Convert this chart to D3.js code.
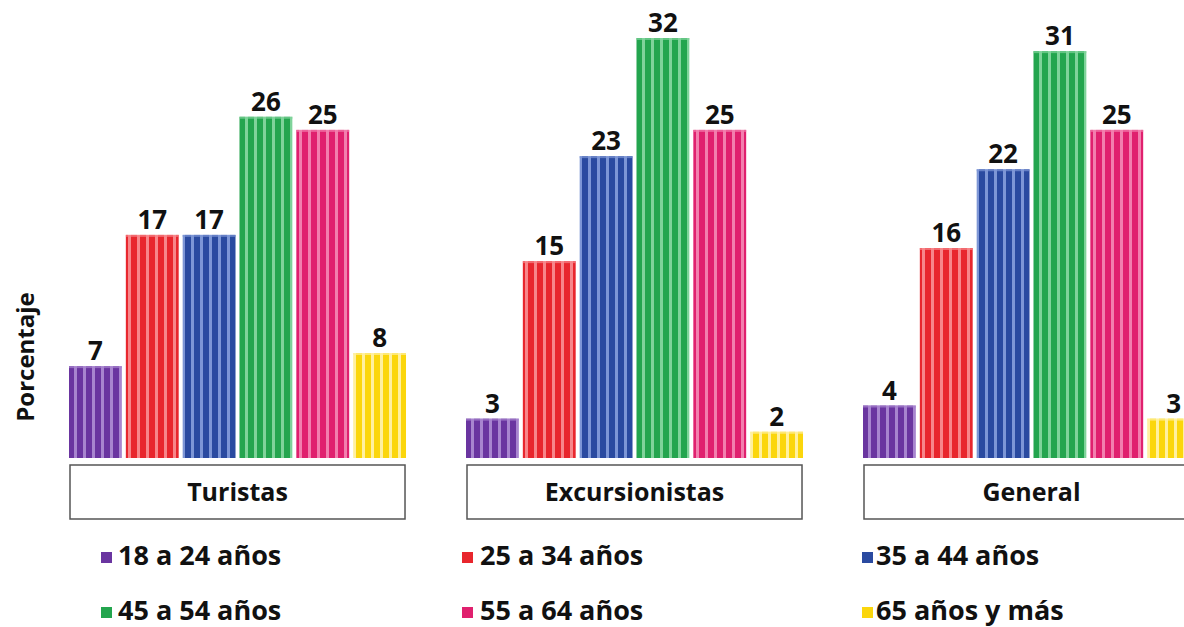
<!DOCTYPE html>
<html><head><meta charset="utf-8">
<script src="https://cdn.jsdelivr.net/npm/d3@7/dist/d3.min.js"></script>
<style>body{margin:0;background:#fff}svg{display:block}text{font-family:"Open Sans",sans-serif;font-weight:700}</style>
</head><body><svg id="c" width="1184" height="627"></svg>
<script>
const groups = ["Turistas","Excursionistas","General"];
const ageGroups = ["18 a 24 años","25 a 34 años","35 a 44 años","45 a 54 años","55 a 64 años","65 años y más"];
const turistas = [7,17,17,26,25,8];
const excursionistas = [3,15,23,32,25,2];
const general = [4,16,22,31,25,3];
const colors = ["#6a35a0","#e8262d","#2a4aa0","#23a54e","#e0206e","#fbd60c"];
const lightColors = ["#a885cf","#f7868a","#7d96d6","#7fd39a","#f27fae","#fff0a0"];

const seriesByGroup = [turistas, excursionistas, general];
const svg = d3.select("#c");

const defs = svg.append("defs");
colors.forEach((c,i)=>{
  const p = defs.append("pattern").attr("id","st"+i).attr("patternUnits","userSpaceOnUse")
    .attr("width",9).attr("height",10);
  p.append("rect").attr("width",9).attr("height",10).attr("fill",c);
  p.append("rect").attr("x",5).attr("width",3).attr("height",10).attr("fill",lightColors[i]);
});

const x0 = d3.scaleBand().domain(groups).range([69, 69 + 397*(3-0.1511)]).paddingInner(0.1511).paddingOuter(0).align(0);
const x1 = d3.scaleBand().domain(ageGroups).range([0, x0.bandwidth()]).paddingInner(0.07).paddingOuter(0);
const y = d3.scaleLinear().domain([0, 32]).range([458, 38]);

groups.forEach((g,gi)=>{
  const gg = svg.append("g").attr("transform",`translate(${x0(g)},0)`);
  const data = ageGroups.map((a,i)=>({a, v: seriesByGroup[gi][i], i}));
  gg.selectAll("rect.bar").data(data).join("rect").attr("class","bar")
    .attr("x",d=>x1(d.a)).attr("width",x1.bandwidth())
    .attr("y",d=>y(d.v)).attr("height",d=>y(0)-y(d.v))
    .attr("fill",d=>`url(#st${d.i})`);
  gg.selectAll("rect.cap").data(data).join("rect").attr("class","cap")
    .attr("x",d=>x1(d.a)).attr("width",x1.bandwidth())
    .attr("y",d=>y(d.v)).attr("height",2)
    .attr("fill",d=>lightColors[d.i]).attr("opacity",0.7);
  gg.selectAll("text.val").data(data).join("text").attr("class","val")
    .attr("x",d=>x1(d.a)+x1.bandwidth()/2).attr("y",d=>y(d.v)-6)
    .attr("text-anchor","middle").attr("font-size",26).attr("fill","#111")
    .text(d=>d.v);
  gg.append("rect").attr("x",1).attr("y",465).attr("width",x0.bandwidth()-2).attr("height",54)
    .attr("fill","#fff").attr("stroke","#555").attr("stroke-width",1.5);
  gg.append("text").attr("x",x0.bandwidth()/2).attr("y",501).attr("text-anchor","middle")
    .attr("font-size",25).attr("fill","#111").text(g);
});

svg.append("text").attr("transform","translate(34,357) rotate(-90)").attr("text-anchor","middle")
  .attr("font-size",24).attr("fill","#111").text("Porcentaje");

const legX = [101, 462, 862];
const legTextX = [118, 480, 876];
const legY = [565, 620];
ageGroups.forEach((a,i)=>{
  const col = i%3, row = Math.floor(i/3);
  svg.append("rect").attr("x",legX[col]).attr("y",legY[row]-13).attr("width",11).attr("height",11).attr("fill",colors[i]);
  svg.append("text").attr("x",legTextX[col]).attr("y",legY[row]).attr("font-size",27).attr("fill","#111").text(a);
});
</script></body></html>
